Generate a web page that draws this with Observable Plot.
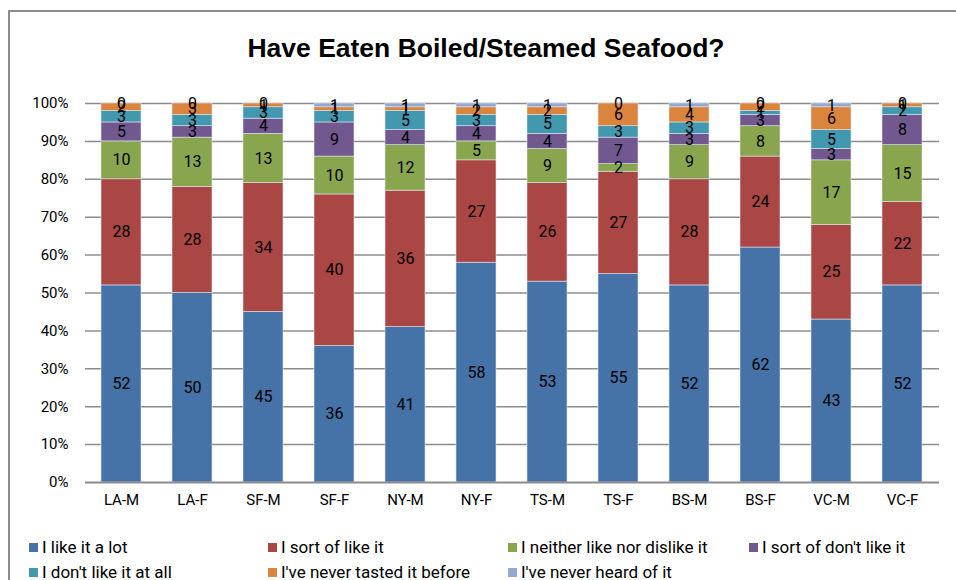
<!DOCTYPE html>
<html>
<head>
<meta charset="utf-8">
<script src="https://cdn.jsdelivr.net/npm/d3@7"></script>
<script src="https://cdn.jsdelivr.net/npm/@observablehq/plot@0.6"></script>
<style>
  html, body { margin: 0; padding: 0; background: #fff; overflow: hidden; }
  body { width: 956px; height: 580px; position: relative; font-family: Roboto, "Liberation Sans", sans-serif; }
  #frame { position: absolute; left: 8px; top: 10px; width: 1000px; height: 700px; border: 2px solid #8c8c8c; box-sizing: border-box; }
  #title { position: absolute; left: 0; width: 972px; top: 33px; text-align: center; font-family: "Liberation Sans", sans-serif; font-weight: bold; font-size: 26.5px; color: #000; }
  #chart { position: absolute; left: 0; top: 80px; }
  .lg { position: absolute; font-size: 17px; color: #000; white-space: nowrap; line-height: 20px; }
  .lg span.sw { display: inline-block; width: 9px; height: 9px; margin-right: 4px; vertical-align: 1px; }
</style>
</head>
<body>
<div id="frame"></div>
<div id="title">Have Eaten Boiled/Steamed Seafood?</div>
<div id="chart"></div>
<div id="legend"></div>
<script>
const categories = ["LA-M","LA-F","SF-M","SF-F","NY-M","NY-F","TS-M","TS-F","BS-M","BS-F","VC-M","VC-F"];
const seriesNames = ["I like it a lot","I sort of like it","I neither like nor dislike it","I sort of don't like it","I don't like it at all","I've never tasted it before","I've never heard of it"];
const colors = ["#4572A7","#AA4643","#89A54E","#71588F","#4198AF","#DB843D","#93A9CF"];

const likeALot      = [52,50,45,36,41,58,53,55,52,62,43,52];
const sortOfLike    = [28,28,34,40,36,27,26,27,28,24,25,22];
const neither       = [10,13,13,10,12, 5, 9, 2, 9, 8,17,15];
const sortOfDont    = [ 5, 3, 4, 9, 4, 4, 4, 7, 3, 3, 3, 8];
const dontLike      = [ 3, 3, 3, 3, 5, 3, 5, 3, 3, 1, 5, 2];
const neverTasted   = [ 2, 3, 1, 1, 1, 2, 2, 6, 4, 2, 6, 1];
const neverHeard    = [ 0, 0, 0, 1, 1, 1, 1, 0, 1, 0, 1, 0];

const seriesValues = [likeALot, sortOfLike, neither, sortOfDont, dontLike, neverTasted, neverHeard];
const data = [];
seriesNames.forEach((s, si) => {
  categories.forEach((c, ci) => data.push({cat: c, series: s, value: seriesValues[si][ci]}));
});

const chart = Plot.plot({
  width: 956,
  height: 440,
  marginLeft: 85,
  marginRight: 17,
  marginTop: 23,
  marginBottom: 38,
  style: {fontFamily: "Roboto, 'Liberation Sans', sans-serif", fontSize: "15px", color: "#000", background: "transparent"},
  x: {domain: categories, paddingInner: 0.43, paddingOuter: 0.215, label: null, tickSize: 0, tickPadding: 12},
  y: {domain: [0, 100], ticks: d3.range(0, 101, 10), tickFormat: d => d + "%", label: null, tickSize: 0, tickPadding: 17},
  color: {domain: seriesNames, range: colors},
  marks: [
    Plot.gridY(d3.range(10, 101, 10), {stroke: "#8c8c8c", strokeOpacity: 1, strokeWidth: 1.5}),
    Plot.barY(data, {x: "cat", y: "value", fill: "series", stroke: "#dde4ee", strokeWidth: 0.6, order: seriesNames}),
    Plot.ruleY([0], {stroke: "#8c8c8c", strokeWidth: 2}),
    Plot.text(data, Plot.stackY({x: "cat", y: "value", z: "series", order: seriesNames, text: d => String(d.value), fill: "#000", fontSize: 16}))
  ]
});
document.getElementById("chart").appendChild(chart);

const legendPos = [[29,537],[268,537],[508,537],[749,537],[29,562],[268,562],[508,562]];
const lg = document.getElementById("legend");
seriesNames.forEach((s, i) => {
  const d = document.createElement("div");
  d.className = "lg";
  d.style.left = legendPos[i][0] + "px";
  d.style.top = legendPos[i][1] + "px";
  d.innerHTML = `<span class="sw" style="background:${colors[i]}"></span>` + s;
  lg.appendChild(d);
});
</script>
</body>
</html>
